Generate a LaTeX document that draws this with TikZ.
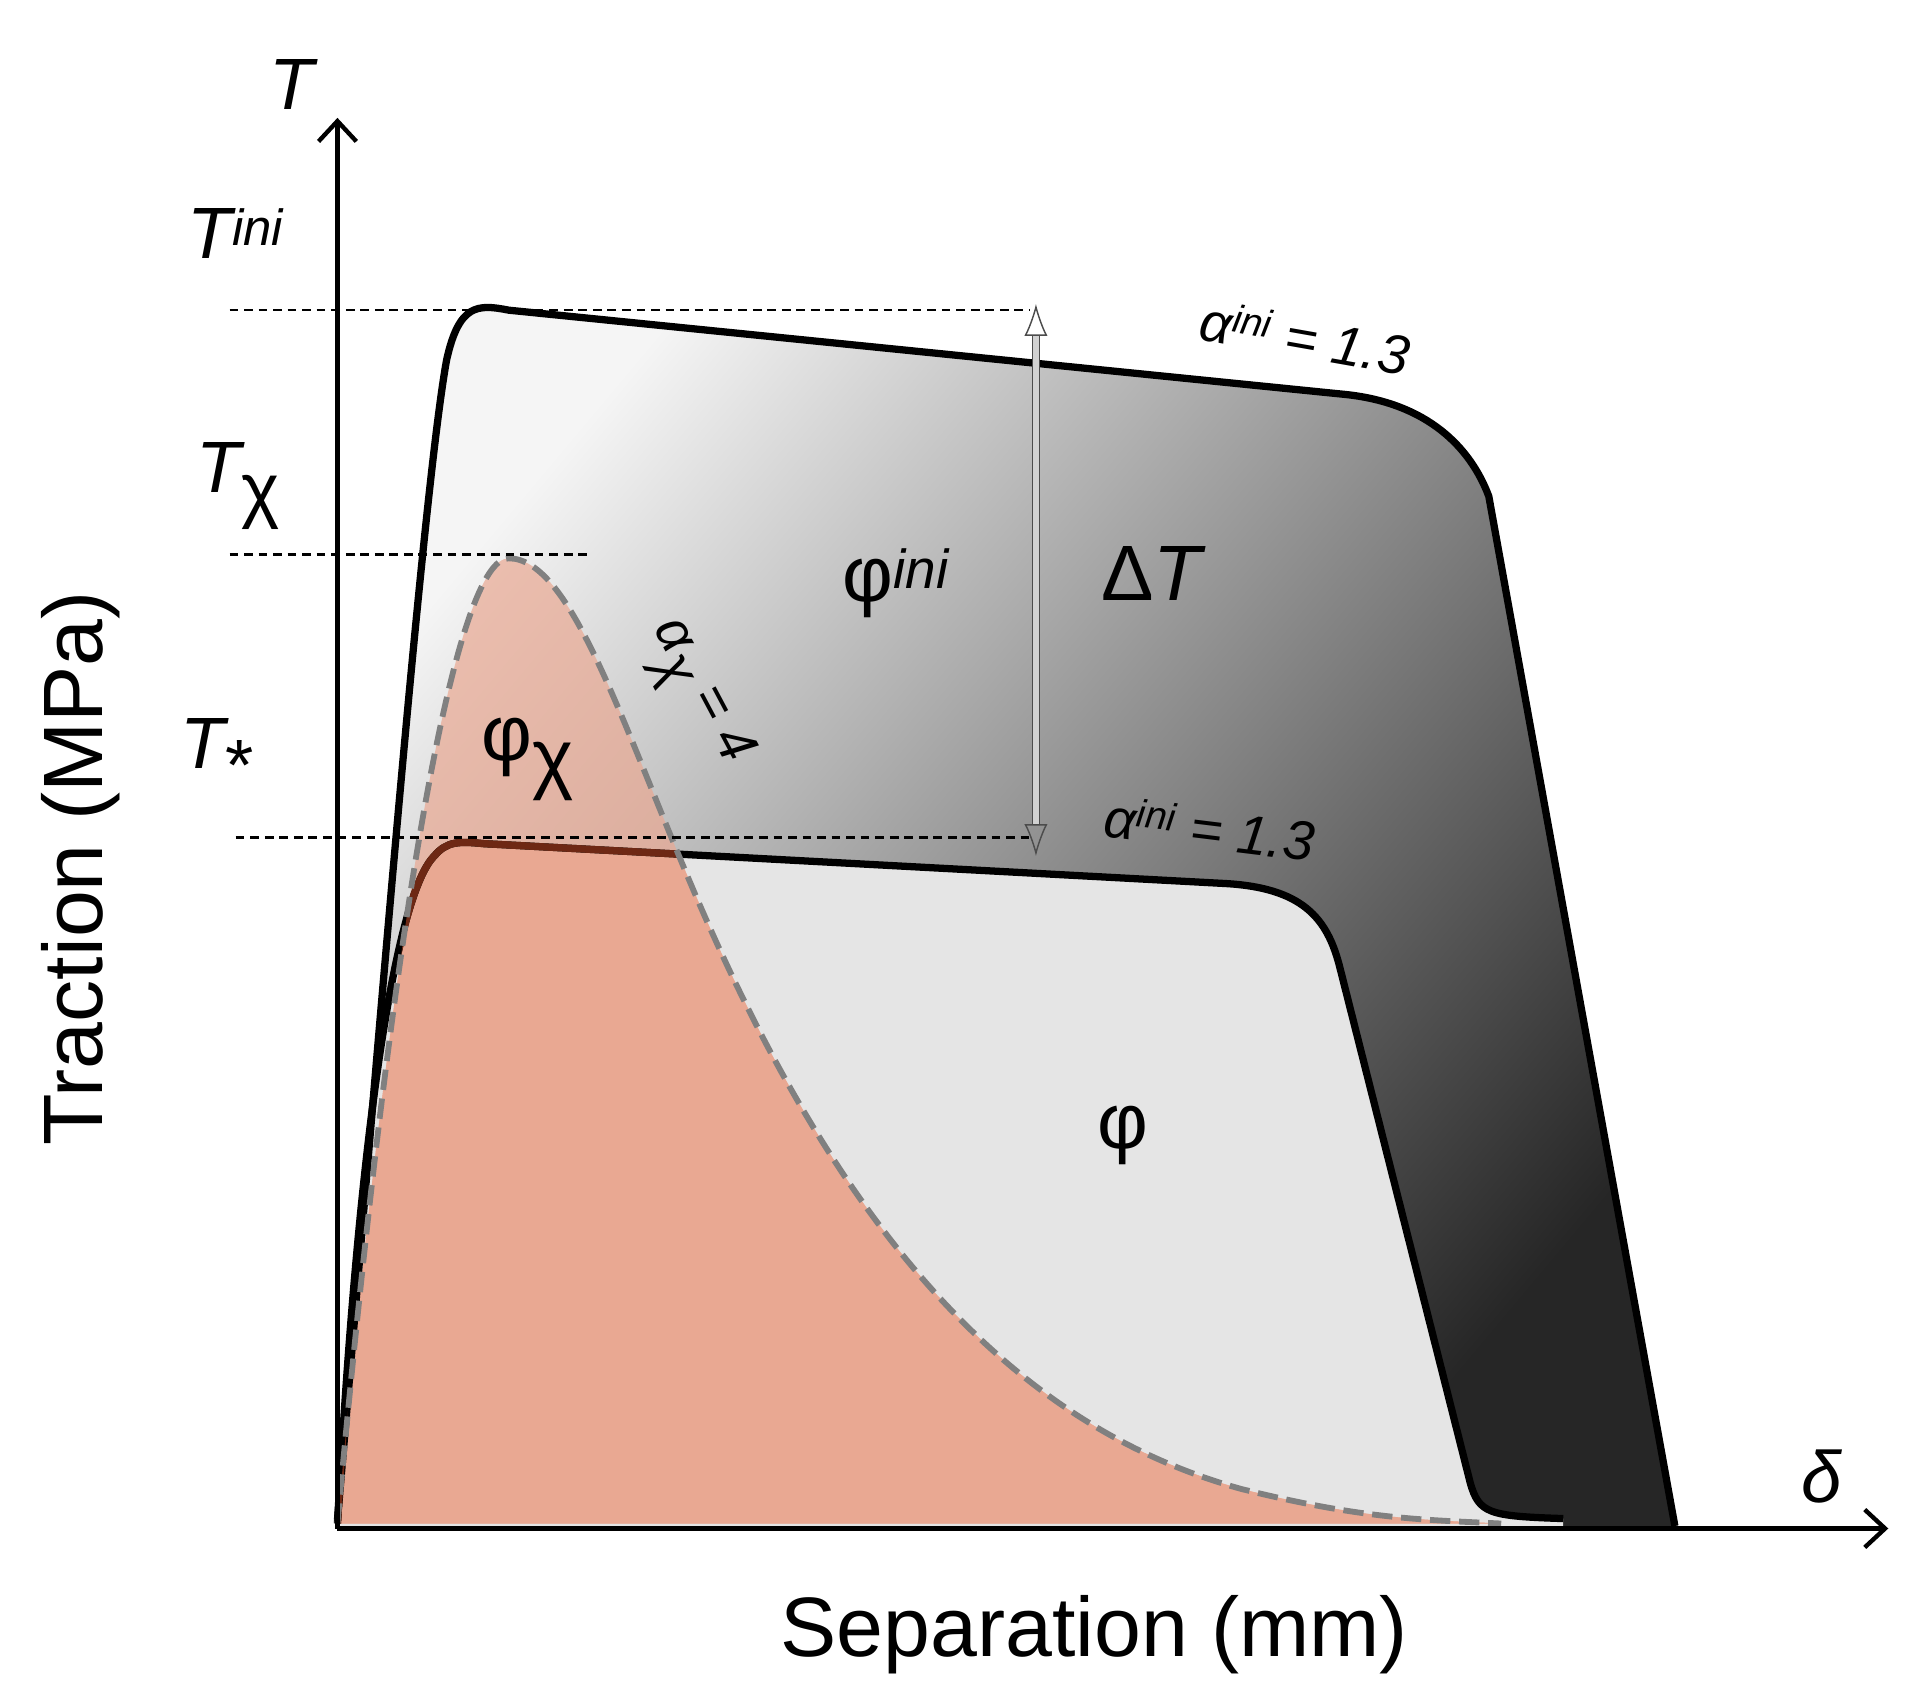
\documentclass[tikz,border=0pt]{standalone}
\usepackage{fontspec}
\setmainfont{Liberation Sans}
\usetikzlibrary{arrows.meta}
\definecolor{salmon}{RGB}{233,168,146}
\definecolor{brownline}{RGB}{110,40,20}
\newcommand{\hi}[1]{\textsuperscript{#1}}
\newcommand{\lo}[1]{\raisebox{-0.3em}{#1}}
\tikzset{
  lbl/.style={font=\fontsize{50}{52}\selectfont\itshape},
  small/.style={font=\fontsize{38}{40}\selectfont\itshape},
  big/.style={font=\fontsize{54}{56}\selectfont},
  guide/.style={dashed, dash pattern=on 6pt off 4pt, line width=1.6pt}
}
\begin{document}
\begin{tikzpicture}[x=0.03cm, y=-0.03cm]
		\useasboundingbox (0,0) rectangle (1550,1365);
		% regions
		\shade[top color=gray!8, bottom color=black!85, shading angle=50]
			(272,1225) .. controls (300,900) and (340,400) .. (360,290) .. controls (370,245) and (385,245) .. (410,250) -- (1085,318) .. controls (1150,325) and (1185,360) .. (1200,400) -- (1350,1230) -- (272,1230) -- cycle;
		\fill[gray!20]
			(272,1228) .. controls (290,900) and (320,720) .. (350,690) .. controls (360,678) and (370,678) .. (390,680) -- (985,712) .. controls (1050,715) and (1070,740) .. (1080,780) -- (1185,1195) .. controls (1192,1220) and (1200,1222) .. (1260,1224) -- (1260,1230) -- (272,1230) -- cycle;
		\fill[salmon, opacity=0.7]
			(272,1228) .. controls (320,700) and (370,450) .. (410,450) .. controls (460,450) and (500,580) .. (560,720) .. controls (680,1000) and (820,1150) .. (1000,1200) .. controls (1100,1225) and (1150,1225) .. (1210,1228) -- cycle;
		\begin{scope}
			\clip (272,1228) .. controls (290,900) and (320,720) .. (350,690) .. controls (360,678) and (370,678) .. (390,680) -- (985,712) .. controls (1050,715) and (1070,740) .. (1080,780) -- (1185,1195) .. controls (1192,1220) and (1200,1222) .. (1260,1224) -- (1260,1230) -- (272,1230) -- cycle;
			\fill[salmon]
				(272,1228) .. controls (320,700) and (370,450) .. (410,450) .. controls (460,450) and (500,580) .. (560,720) .. controls (680,1000) and (820,1150) .. (1000,1200) .. controls (1100,1225) and (1150,1225) .. (1210,1228) -- cycle;
		\end{scope}
		% curves
		\draw[line width=5pt, line join=round]
			(272,1225) .. controls (300,900) and (340,400) .. (360,290) .. controls (370,245) and (385,245) .. (410,250) -- (1085,318) .. controls (1150,325) and (1185,360) .. (1200,400) -- (1350,1230);
		\draw[line width=5pt, line join=round]
			(272,1228) .. controls (290,900) and (320,720) .. (350,690) .. controls (360,678) and (370,678) .. (390,680) -- (985,712) .. controls (1050,715) and (1070,740) .. (1080,780) -- (1185,1195) .. controls (1192,1220) and (1200,1222) .. (1260,1224);
		\begin{scope}
			\clip (272,1228) .. controls (320,700) and (370,450) .. (410,450) .. controls (460,450) and (500,580) .. (560,720) -- (560,1230) -- cycle;
			\draw[brownline, line width=5pt]
				(272,1228) .. controls (290,900) and (320,720) .. (350,690) .. controls (360,678) and (370,678) .. (390,680) -- (985,712);
		\end{scope}
		\draw[gray, line width=4pt, dash pattern=on 14pt off 6pt]
			(272,1228) .. controls (320,700) and (370,450) .. (410,450) .. controls (460,450) and (500,580) .. (560,720) .. controls (680,1000) and (820,1150) .. (1000,1200) .. controls (1100,1225) and (1150,1225) .. (1210,1228);
		% axes
		\coordinate (O) at (272,1232);
		\coordinate (Ytip) at (272,95);
		\coordinate (Xtip) at (1522,1232);
		\draw[line width=3pt, -{Straight Barb[length=14pt, width=26pt, line width=3pt]}] (O) -- (Ytip);
		\draw[line width=3pt, -{Straight Barb[length=14pt, width=26pt, line width=3pt]}] (O) -- (Xtip);
		% guide lines
		\draw[guide] (185,250) -- (830,250);
		\draw[guide] (185,447) -- (475,447);
		\draw[guide] (190,675) -- (830,675);
		% delta T arrow
		\coordinate (Atop) at (835,245);
		\coordinate (Abot) at (835,690);
		\draw[gray!60!black, line width=1pt, double=gray!35, double distance=4pt, {Latex[length=22pt, width=16pt, open]}-{Latex[length=22pt, width=16pt, open]}] (Atop) -- (Abot);
		% labels
		\node[lbl] (tT) at (235,68) {T};
		\node[lbl] (tTini) at (190,188) {T\hi{ini}};
		\node[lbl] (tTchi) at (192,392) {T\lo{\upshape χ}};
		\node[lbl] (tTstar) at (175,608) {T\lo{\upshape *}};
		\node[big] (phiini) at (722,470) {φ\hi{\itshape ini}};
		\node[big] (dT) at (930,462) {Δ\textit{T}};
		\node[small, rotate=-10] (aini1) at (1052,272) {α\hi{ini} = 1.3};
		\node[small, rotate=-7] (aini2) at (975,668) {α\hi{ini} = 1.3};
		\node[big] (phichi) at (425,612) {φ\lo{χ}};
		\node[small, rotate=-62] (achi) at (560,560) {α\lo{χ} = 4};
		\node[big] (phi) at (905,915) {φ};
		\node[lbl] (dl) at (1468,1190) {δ};
		\node[font=\fontsize{58}{60}\selectfont] (xlab) at (882,1318) {Separation (mm)};
		\node[font=\fontsize{58}{60}\selectfont, rotate=90] (ylab) at (65,700) {Traction (MPa)};
	\end{tikzpicture}
\end{document}
